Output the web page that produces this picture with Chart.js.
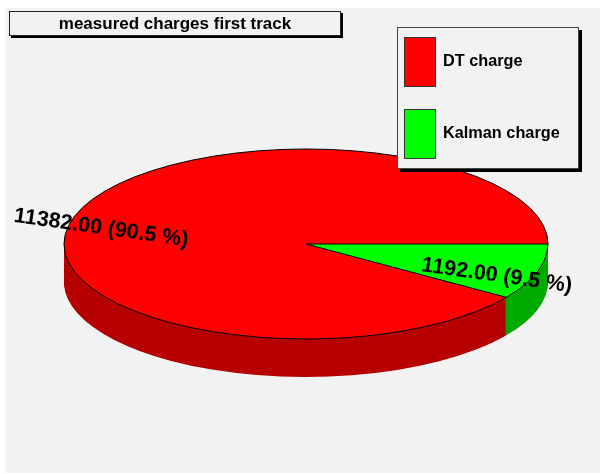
<!DOCTYPE html>
<html>
<head>
<meta charset="utf-8">
<script src="https://cdn.jsdelivr.net/npm/chart.js@4/dist/chart.umd.min.js"></script>
<style>
  html, body { margin: 0; padding: 0; background: #ffffff; }
  #pie { display: block; }
</style>
</head>
<body>
<canvas id="pie" width="600" height="474"></canvas>
<script>
const chartTitle = 'measured charges first track'
const categories = ['DT charge', 'Kalman charge']
const charges = [11382, 1192]
const sliceColors = ['#ff0000', '#00ff00']
const sideColors = [['#ad0000', '#c20000'], ['#00a200', '#00b400']]

// ellipse the flat pie is projected onto, plus wall height
const PIE = { cx: 306, cy: 244, rx: 242, ry: 95, depth: 38 }
const FONT = "'Liberation Sans', Arial, sans-serif"

const total = charges.reduce((a, b) => a + b, 0)
const labelText = (v) => `${v.toFixed(2)} (${(100 * v / total).toFixed(1)} %)`

const backdrop = {
  id: 'backdrop',
  beforeDraw (chart) {
    const { ctx } = chart
    ctx.save()
    ctx.fillStyle = '#f2f2f2'
    ctx.fillRect(5, 8, 595, 465)
    ctx.restore()
  }
}

const pie3d = {
  id: 'pie3d',
  beforeDatasetsDraw (chart) {
    const { ctx } = chart
    const arcs = chart.getDatasetMeta(0).data
    const { x, y, outerRadius } = arcs[0]
    const sx = PIE.rx / outerRadius
    const sy = PIE.ry / outerRadius
    const project = (dy) => {
      ctx.translate(PIE.cx, PIE.cy + dy)
      ctx.scale(sx, sy)
      ctx.translate(-x, -y)
    }
    // walls: stack the slices downwards in darker shades
    for (let dy = PIE.depth; dy > 0; dy--) {
      ctx.save()
      project(dy)
      arcs.forEach((arc, i) => {
        const opts = arc.options
        arc.options = { ...opts, backgroundColor: sideColors[i][dy % 2] }
        arc.draw(ctx)
        arc.options = opts
      })
      ctx.restore()
    }
    ctx.save()
    project(0)
  },
  afterDatasetsDraw (chart) {
    const { ctx } = chart
    ctx.restore()
    const arcs = chart.getDatasetMeta(0).data

    // outline of the top face and the slice edges
    ctx.save()
    ctx.strokeStyle = '#000'
    ctx.lineWidth = 1
    ctx.beginPath()
    ctx.ellipse(PIE.cx, PIE.cy, PIE.rx, PIE.ry, 0, 0, Math.PI * 2)
    ctx.stroke()
    arcs.forEach((arc) => {
      ctx.beginPath()
      ctx.moveTo(PIE.cx, PIE.cy)
      ctx.lineTo(PIE.cx + PIE.rx * Math.cos(arc.startAngle), PIE.cy + PIE.ry * Math.sin(arc.startAngle))
      ctx.stroke()
    })
    ctx.restore()

    // value labels, laid along the projected radius
    ctx.save()
    ctx.fillStyle = '#000'
    ctx.font = `bold 21.5px ${FONT}`
    ctx.textAlign = 'center'
    ctx.textBaseline = 'middle'
    arcs.forEach((arc, i) => {
      const mid = (arc.startAngle + arc.endAngle) / 2
      const f = 0.855
      const lx = PIE.cx + PIE.rx * f * Math.cos(mid) - 7
      const ly = PIE.cy + PIE.ry * f * Math.sin(mid) + 8
      let dx = PIE.rx * Math.cos(mid)
      let dy = PIE.ry * Math.sin(mid)
      if (dx < 0) { dx = -dx; dy = -dy }
      ctx.save()
      ctx.translate(lx, ly)
      ctx.rotate(Math.atan2(dy, dx) + 0.02)
      ctx.fillText(labelText(charges[i]), 0, 0)
      ctx.restore()
    })
    ctx.restore()
  }
}

const panes = {
  id: 'panes',
  afterDraw (chart) {
    const { ctx } = chart
    ctx.save()

    // title pave
    ctx.fillStyle = '#000'
    ctx.fillRect(11, 13, 332, 25)
    ctx.fillStyle = '#f2f2f2'
    ctx.fillRect(9, 11, 332, 25)
    ctx.strokeStyle = '#222'
    ctx.lineWidth = 1
    ctx.strokeRect(9.5, 11.5, 331, 24)
    ctx.fillStyle = '#000'
    ctx.font = `bold 17px ${FONT}`
    ctx.textAlign = 'center'
    ctx.textBaseline = 'alphabetic'
    ctx.fillText(chartTitle, 175, 29)

    // legend
    ctx.fillStyle = '#000'
    ctx.fillRect(400, 30, 182, 142)
    ctx.fillStyle = '#f2f2f2'
    ctx.fillRect(397, 27, 182, 142)
    ctx.strokeStyle = '#444'
    ctx.strokeRect(397.5, 27.5, 181, 141)
    ctx.font = `bold 16.3px ${FONT}`
    ctx.textAlign = 'left'
    ctx.textBaseline = 'middle'
    categories.forEach((name, i) => {
      const top = 37 + i * 72
      ctx.fillStyle = sliceColors[i]
      ctx.fillRect(404, top, 32, 50)
      ctx.strokeStyle = '#333'
      ctx.strokeRect(404.5, top + 0.5, 31, 49)
      ctx.fillStyle = '#000'
      ctx.fillText(name, 443, top + 25)
    })
    ctx.restore()
  }
}

new Chart(document.getElementById('pie'), {
  type: 'pie',
  data: {
    labels: categories,
    datasets: [
      {
        data: charges,
        backgroundColor: sliceColors,
        borderWidth: 0
      }
    ]
  },
  options: {
    responsive: false,
    animation: false,
    events: [],
    // Kalman slice sits just below the 3 o'clock line, DT follows it round
    rotation: 90 + 360 * charges[1] / total,
    plugins: {
      legend: { display: false },
      tooltip: { enabled: false }
    }
  },
  plugins: [backdrop, pie3d, panes]
})
</script>
</body>
</html>
